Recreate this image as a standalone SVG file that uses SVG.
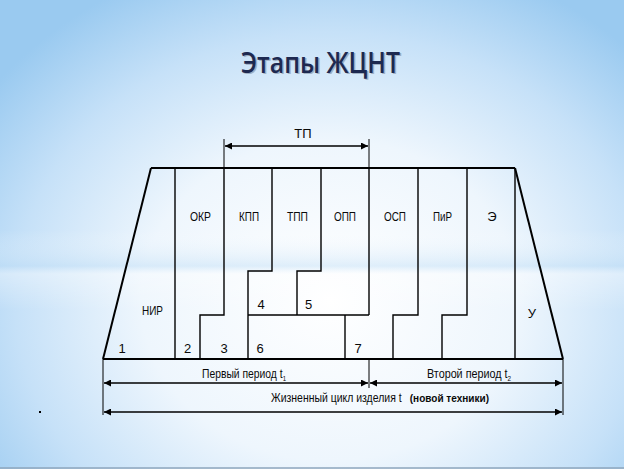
<svg xmlns="http://www.w3.org/2000/svg" width="624" height="469" viewBox="0 0 624 469">
  <defs>
    <radialGradient id="bg" cx="330" cy="300" r="420" gradientUnits="userSpaceOnUse" gradientTransform="translate(330 300) scale(1 0.85) translate(-330 -300)">
      <stop offset="0" stop-color="#ffffff"/>
      <stop offset="0.45" stop-color="#eef6fd"/>
      <stop offset="0.75" stop-color="#c6e1f8"/>
      <stop offset="1" stop-color="#9acaf0"/>
    </radialGradient>
    <linearGradient id="band" x1="0" y1="0" x2="0" y2="1">
      <stop offset="0" stop-color="#ffffff" stop-opacity="0"/>
      <stop offset="0.45" stop-color="#bcdcf5" stop-opacity="0.45"/>
      <stop offset="0.55" stop-color="#ffffff" stop-opacity="0.35"/>
      <stop offset="1" stop-color="#ffffff" stop-opacity="0"/>
    </linearGradient>
    <marker id="ah" viewBox="0 0 10 10" refX="10" refY="5" markerWidth="11" markerHeight="7" markerUnits="userSpaceOnUse" orient="auto-start-reverse">
      <path d="M0,0 L10,5 L0,10 z" fill="#000"/>
    </marker>
    <style>
      .ln { fill: none; stroke: #000; stroke-width: 1.4; }
      .lt { fill: none; stroke: #000; stroke-width: 2; }
      .dim { fill: none; stroke: #000; stroke-width: 1.6; marker-start: url(#ah); marker-end: url(#ah); }
      .tk { fill: none; stroke: #000; stroke-width: 1; }
      .lb { font-family: "Liberation Sans Narrow", "Liberation Sans", Arial, sans-serif; font-size: 13px; fill: #0a0a0a; }
      .cl { text-anchor: middle; }
      .sb { font-size: 7px; }
      .title { font-family: "Open Sans", "Noto Sans", sans-serif; font-size: 28px; font-weight: 600; }
    </style>
  </defs>

  <rect width="624" height="469" fill="url(#bg)"/>
  <rect x="0" y="230" width="624" height="80" fill="url(#band)"/>
  <line x1="0" y1="468" x2="624" y2="468" stroke="#8ea6bd" stroke-width="1.5"/>

  <g id="title">
    <text x="242.5" y="74" class="title" fill="#7d8ba0" opacity="0.6" textLength="159" lengthAdjust="spacingAndGlyphs">Этапы ЖЦНТ</text>
    <text x="241" y="72.5" class="title" fill="#1d2950" textLength="159" lengthAdjust="spacingAndGlyphs">Этапы ЖЦНТ</text>
  </g>

  <g id="connectors">
    <path class="lt" d="M151,168 H515"/>
    <path class="lt" d="M103,359 H563"/>
    <path class="lt" d="M151,168 L103,359"/>
    <path class="lt" d="M515,168 L563,359"/>
    <path class="ln" d="M175,168 V359"/>
    <path class="ln" d="M224,168 V315 H200 V359"/>
    <path class="ln" d="M272,168 V271 H248 V359"/>
    <path class="ln" d="M321,168 V271 H297 V315"/>
    <path class="ln" d="M248,315 H369"/>
    <path class="ln" d="M369,168 V315"/>
    <path class="ln" d="M345,315 V359"/>
    <path class="ln" d="M418,168 V315 H393 V359"/>
    <path class="ln" d="M467,168 V315 H442 V359"/>
    <path class="ln" d="M515,168 V359"/>
    <path class="tk" d="M224,139 V168 M369,139 V168"/>
    <path class="dim" d="M225,146 H368"/>
    <path class="tk" d="M103,359 V415 M563,359 V415 M369,359 V388"/>
    <path class="dim" d="M104,383 H368"/>
    <path class="dim" d="M370,383 H562"/>
    <path class="dim" d="M104,412 H562"/>
  </g>

  <g id="tp"><text class="lb cl" x="303" y="138">ТП</text></g>
  <g id="nir">
    <text class="lb" x="142" y="315" textLength="21" lengthAdjust="spacingAndGlyphs">НИР</text>
    <text class="lb cl" x="122" y="353">1</text>
  </g>
  <g id="okr">
    <text class="lb" x="190" y="221" textLength="21" lengthAdjust="spacingAndGlyphs">ОКР</text>
    <text class="lb cl" x="187.5" y="353">2</text>
  </g>
  <g id="kpp">
    <text class="lb" x="239" y="221" textLength="20" lengthAdjust="spacingAndGlyphs">КПП</text>
    <text class="lb cl" x="224" y="353">3</text>
  </g>
  <g id="tpp">
    <text class="lb" x="287" y="221" textLength="21" lengthAdjust="spacingAndGlyphs">ТПП</text>
    <text class="lb cl" x="261" y="309">4</text>
  </g>
  <g id="opp">
    <text class="lb" x="334" y="221" textLength="22" lengthAdjust="spacingAndGlyphs">ОПП</text>
    <text class="lb cl" x="308.5" y="309">5</text>
  </g>
  <g id="block6"><text class="lb cl" x="260" y="353">6</text></g>
  <g id="block7"><text class="lb cl" x="358" y="353">7</text></g>
  <g id="osp"><text class="lb" x="384" y="221" textLength="22" lengthAdjust="spacingAndGlyphs">ОСП</text></g>
  <g id="pir"><text class="lb" x="433" y="221" textLength="19" lengthAdjust="spacingAndGlyphs">ПиР</text></g>
  <g id="e"><text class="lb cl" x="492" y="221">Э</text></g>
  <g id="u"><text class="lb cl" x="532" y="318">У</text></g>

  <g id="period1">
    <text class="lb" x="202" y="378" textLength="84" lengthAdjust="spacingAndGlyphs" style="font-size:12px">Первый период t<tspan class="sb" dy="3">1</tspan></text>
  </g>
  <g id="period2">
    <text class="lb" x="427" y="378" textLength="84" lengthAdjust="spacingAndGlyphs" style="font-size:12px">Второй период t<tspan class="sb" dy="3">2</tspan></text>
  </g>
  <g id="lifecycle">
    <text class="lb" x="271" y="402" textLength="218" lengthAdjust="spacingAndGlyphs" style="font-size:12px">Жизненный цикл изделия t <tspan font-weight="bold" dx="6" style="font-size:11.5px">(новой техники)</tspan></text>
  </g>
  <rect x="39" y="411" width="2" height="2" fill="#000"/>
</svg>
